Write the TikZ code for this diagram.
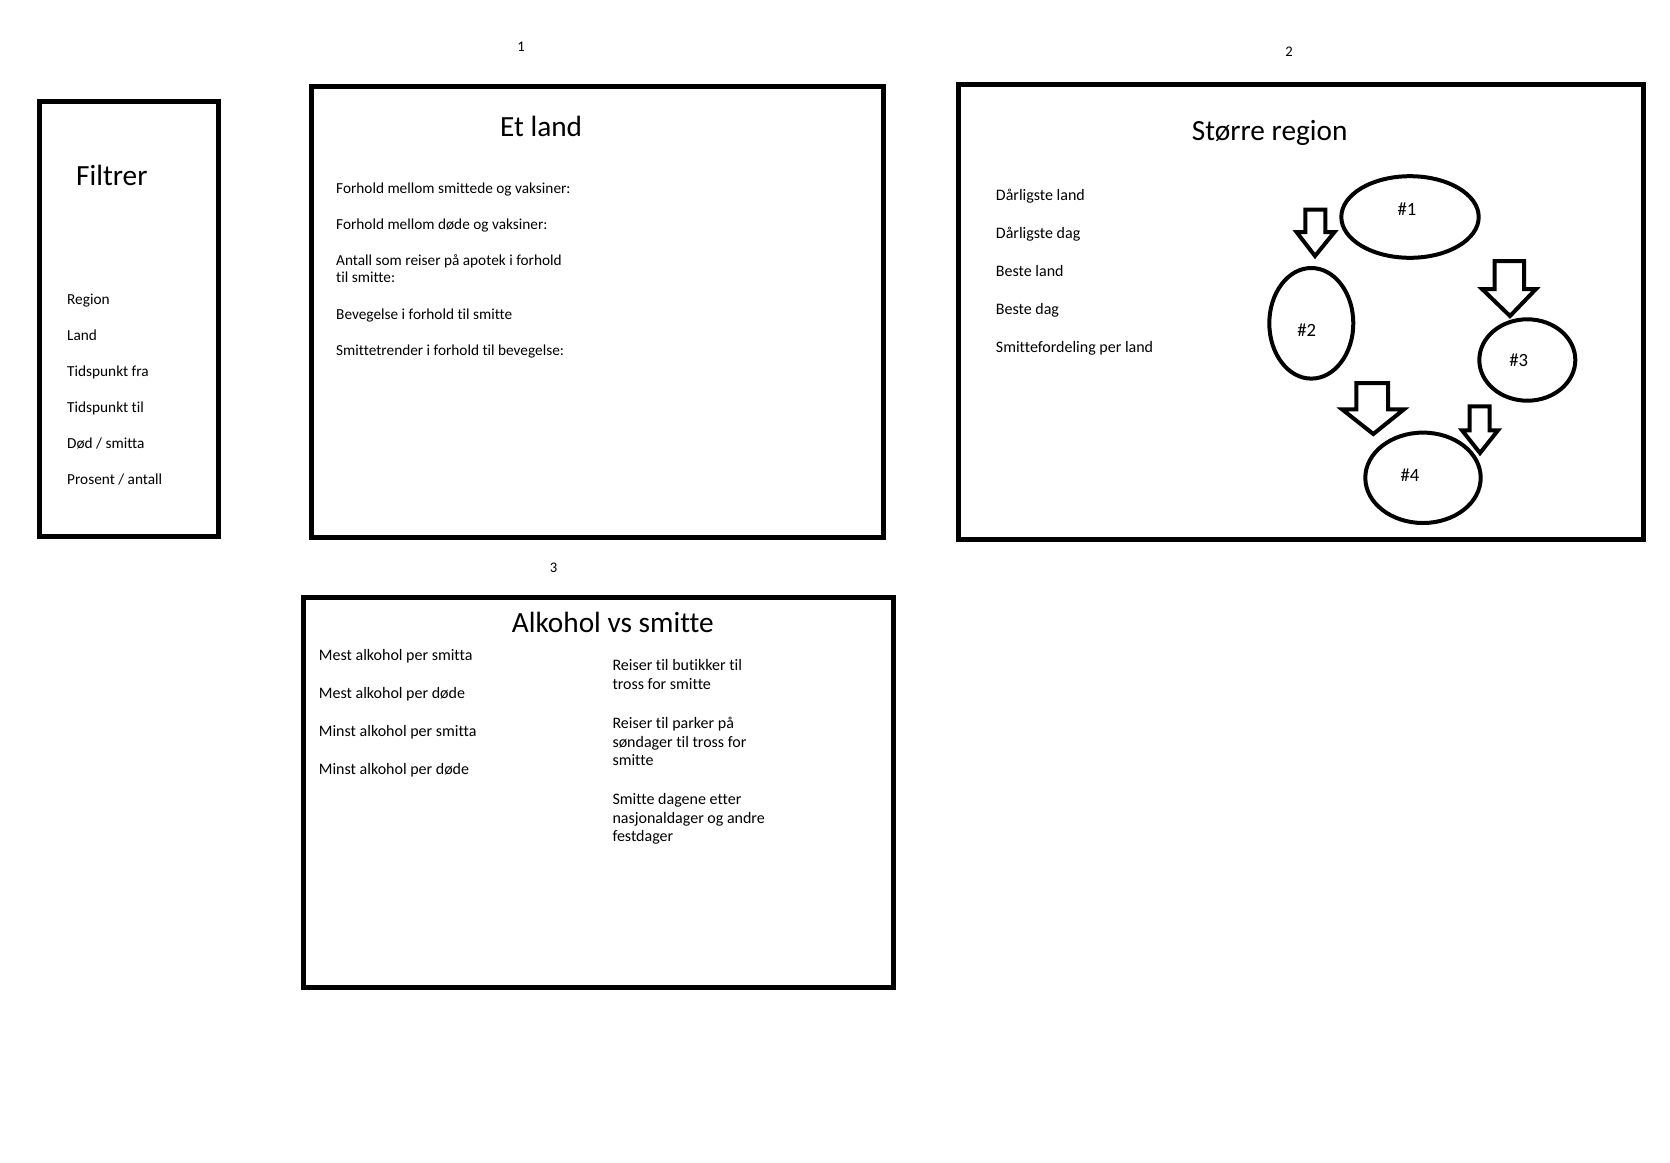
\documentclass[tikz,border=0pt]{standalone}
\usepackage{fontspec}
\setmainfont{Carlito}[Ligatures=NoCommon]
\usetikzlibrary{shapes.geometric}
\begin{document}
\begin{tikzpicture}[x=1pt,y=-1pt,
  frame/.style={draw=black, line width=5pt},
  smalltxt/.style={anchor=base west, inner sep=0pt, align=left, font=\fontsize{15.3}{17.7}\selectfont},
  midtxt/.style={anchor=base west, inner sep=0pt, align=left, font=\fontsize{16}{18.7}\selectfont},
  titletxt/.style={anchor=base west, inner sep=0pt, font=\fontsize{29.3}{35}\selectfont},
  numtxt/.style={anchor=base, inner sep=0pt, font=\fontsize{14.67}{17.7}\selectfont},
  oval/.style={draw=black, ellipse, line width=4pt, inner sep=0pt},
  ovallbl/.style={anchor=center, inner sep=0pt, font=\fontsize{18.67}{22}\selectfont},
  blockarrow/.style={draw=black, line width=4pt, line join=miter, miter limit=10}
]
\fill[white] (0,0) rectangle (1670,1162);
\useasboundingbox (0,0) rectangle (1670,1162);

% ---------- Filtrer ----------
\draw[frame] (39.5,101.5) rectangle (218.5,536.5);
\node[titletxt] (filtrer) at (76,185) {Filtrer};
\node[smalltxt] (f1) at (67,304) {Region};
\node[smalltxt] (f2) at (67,340) {Land};
\node[smalltxt] (f3) at (67,376) {Tidspunkt fra};
\node[smalltxt] (f4) at (67,412) {Tidspunkt til};
\node[smalltxt] (f5) at (67,448) {Død / smitta};
\node[smalltxt] (f6) at (67,484) {Prosent / antall};

% ---------- 1: Et land ----------
\node[numtxt] (n1) at (521,51) {1};
\draw[frame] (311.5,86) rectangle (883.5,537.5);
\node[titletxt] (etland) at (500,136) {Et land};
\node[smalltxt] (l1) at (336,193.3) {Forhold mellom smittede og vaksiner:};
\node[smalltxt] (l2) at (336,229) {Forhold mellom døde og vaksiner:};
\node[smalltxt] (l3) at (336,282.7) {Antall som reiser på apotek i forhold\\til smitte:};
\node[smalltxt] (l4) at (336,319.3) {Bevegelse i forhold til smitte};
\node[smalltxt] (l5) at (336,355) {Smittetrender i forhold til bevegelse:};

% ---------- 2: Større region ----------
\node[numtxt] (n2) at (1289,56) {2};
\draw[frame] (958.5,84) rectangle (1643.5,539);
\node[titletxt] (region) at (1191.7,140) {Større region};
\node[midtxt] (r1) at (995.7,200) {Dårligste land};
\node[midtxt] (r2) at (995.7,238.3) {Dårligste dag};
\node[midtxt] (r3) at (995.7,276) {Beste land};
\node[midtxt] (r4) at (995.7,314) {Beste dag};
\node[midtxt] (r5) at (995.7,352) {Smittefordeling per land};

\node[oval, minimum width=137.4pt, minimum height=81.6pt] (e1) at (1410,217) {};
\node[oval, minimum width=84pt, minimum height=110.6pt] (e2) at (1311.3,323.3) {};
\node[oval, minimum width=96pt, minimum height=81.4pt] (e3) at (1527.3,360) {};
\node[oval, minimum width=115.4pt, minimum height=90.4pt] (e4) at (1423,477.8) {};
\node[ovallbl] (t1) at (1407,209) {\#1};
\node[ovallbl] (t2) at (1306.7,330) {\#2};
\node[ovallbl] (t3) at (1518.8,360.3) {\#3};
\node[ovallbl] (t4) at (1410,475.5) {\#4};

% block arrows
\draw[blockarrow] (1305.3,209.7) -- (1325.3,209.7) -- (1325.3,232) -- (1334.5,232) -- (1315,256) -- (1296.5,232) -- (1305.3,232) -- cycle;
\draw[blockarrow] (1494.7,261) -- (1524,261) -- (1524,289) -- (1536,289) -- (1510,316) -- (1482,289) -- (1494.7,289) -- cycle;
\draw[blockarrow] (1356.3,383) -- (1388,383) -- (1388,409.3) -- (1404,409.3) -- (1373.3,434) -- (1342,409.3) -- (1356.3,409.3) -- cycle;
\draw[blockarrow] (1469.7,406.3) -- (1489.7,406.3) -- (1489.7,430.3) -- (1498,430.3) -- (1480,453) -- (1462,430.3) -- (1469.7,430.3) -- cycle;

% ---------- 3: Alkohol vs smitte ----------
\node[numtxt] (n3) at (553.7,572) {3};
\draw[frame] (303.5,597.5) rectangle (893.5,987.5);
\node[titletxt] (alkohol) at (511.7,632.7) {Alkohol vs smitte};
\node[midtxt] (a1) at (318.7,660.7) {Mest alkohol per smitta};
\node[midtxt] (a2) at (318.7,698.3) {Mest alkohol per døde};
\node[midtxt] (a3) at (318.7,736.7) {Minst alkohol per smitta};
\node[midtxt] (a4) at (318.7,774.3) {Minst alkohol per døde};
\node[midtxt] (b1) at (612.3,689.3) {Reiser til butikker til\\tross for smitte};
\node[midtxt] (b2) at (612.3,765.7) {Reiser til parker på\\søndager til tross for\\smitte};
\node[midtxt] (b3) at (612.3,841.7) {Smitte dagene etter\\nasjonaldager og andre\\festdager};
\end{tikzpicture}
\end{document}
